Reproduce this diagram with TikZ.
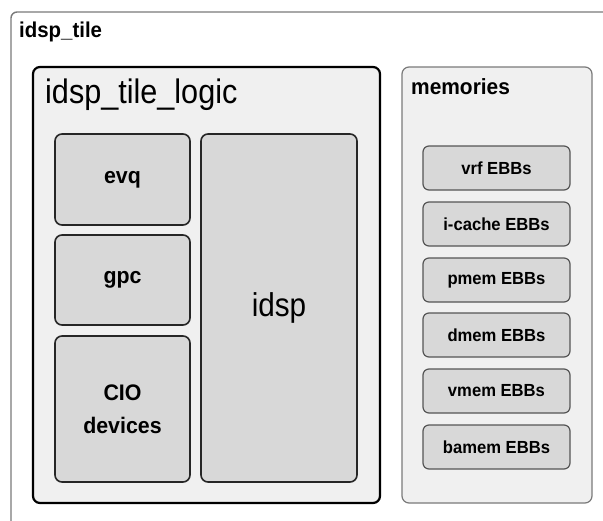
\documentclass[tikz,border=0pt]{standalone}
\usepackage{fontspec}
\setmainfont{Liberation Sans}
\newfontfamily\bnarrow[FakeStretch=0.95]{Liberation Sans Bold}
\newfontfamily\rnarrow[FakeStretch=0.9]{Liberation Sans}
\definecolor{panel}{HTML}{F0F0F0}
\definecolor{blockfill}{HTML}{D8D8D8}
\definecolor{edgegray}{HTML}{7A7A7A}
\definecolor{itemedge}{HTML}{555555}
\tikzset{
  blk/.style={draw, anchor=north west, inner sep=0pt, outer sep=0pt},
  logicpanel/.style={blk, fill=panel, draw=black, line width=2.2pt, rounded corners=7pt},
  mempanel/.style={blk, fill=panel, draw=edgegray, line width=1.2pt, rounded corners=7pt},
  unit/.style={blk, fill=blockfill, draw=black!85, line width=1.6pt, rounded corners=7pt,
    font=\bnarrow\fontsize{22.5}{33}\selectfont, align=center},
  bigunit/.style={unit, font=\rnarrow\fontsize{33}{36}\selectfont},
  ebb/.style={blk, fill=blockfill, draw=itemedge, line width=1.2pt, rounded corners=6pt,
    minimum width=147pt, minimum height=44pt, font=\bnarrow\fontsize{17.5}{20}\selectfont},
  title/.style={anchor=base west, inner sep=0pt},
}
\begin{document}
\begin{tikzpicture}[x=1pt, y=-1pt]
  \useasboundingbox (0,0) rectangle (603,520);
  \fill[white] (0,0) rectangle (603,520);
  \begin{scope}
    \clip (0,0) rectangle (603,520);
    % enclosing tile frame, running off the right and bottom edges
    \node[blk, draw=edgegray, line width=1.4pt, rounded corners=6pt,
          minimum width=640pt, minimum height=560pt] (tile) at (11,12) {};
  \end{scope}
  \node[title, font=\bnarrow\fontsize{21.5}{24}\selectfont] (tilelabel) at (19,37) {idsp\_tile};

  % logic partition
  \node[logicpanel, minimum width=347pt, minimum height=436pt] (logic) at (33,67) {};
  \node[title, font=\rnarrow\fontsize{34}{38}\selectfont] (logiclabel) at (45,103) {idsp\_tile\_logic};

  \node[unit, minimum width=135pt, minimum height=91pt] (evq) at (55,134) {evq};
  \node[unit, minimum width=135pt, minimum height=90pt] (gpc) at (55,235) {gpc};
  \node[unit, minimum width=135pt, minimum height=146pt] (cio) at (55,336) {CIO\\devices};
  \node[bigunit, minimum width=156pt, minimum height=348pt] (idsp) at (201,134) {idsp};

  % memory partition
  \node[mempanel, minimum width=190pt, minimum height=436pt] (mem) at (402,67) {};
  \node[title, font=\bnarrow\fontsize{22}{24}\selectfont] (memlabel) at (411,94) {memories};

  \node[ebb] (vrf)   at (423,146) {vrf EBBs};
  \node[ebb] (icache) at (423,202) {i-cache EBBs};
  \node[ebb] (pmem)  at (423,258) {pmem EBBs};
  \node[ebb] (dmem)  at (423,313) {dmem EBBs};
  \node[ebb] (vmem)  at (423,369) {vmem EBBs};
  \node[ebb] (bamem) at (423,425) {bamem EBBs};
\end{tikzpicture}
\end{document}
